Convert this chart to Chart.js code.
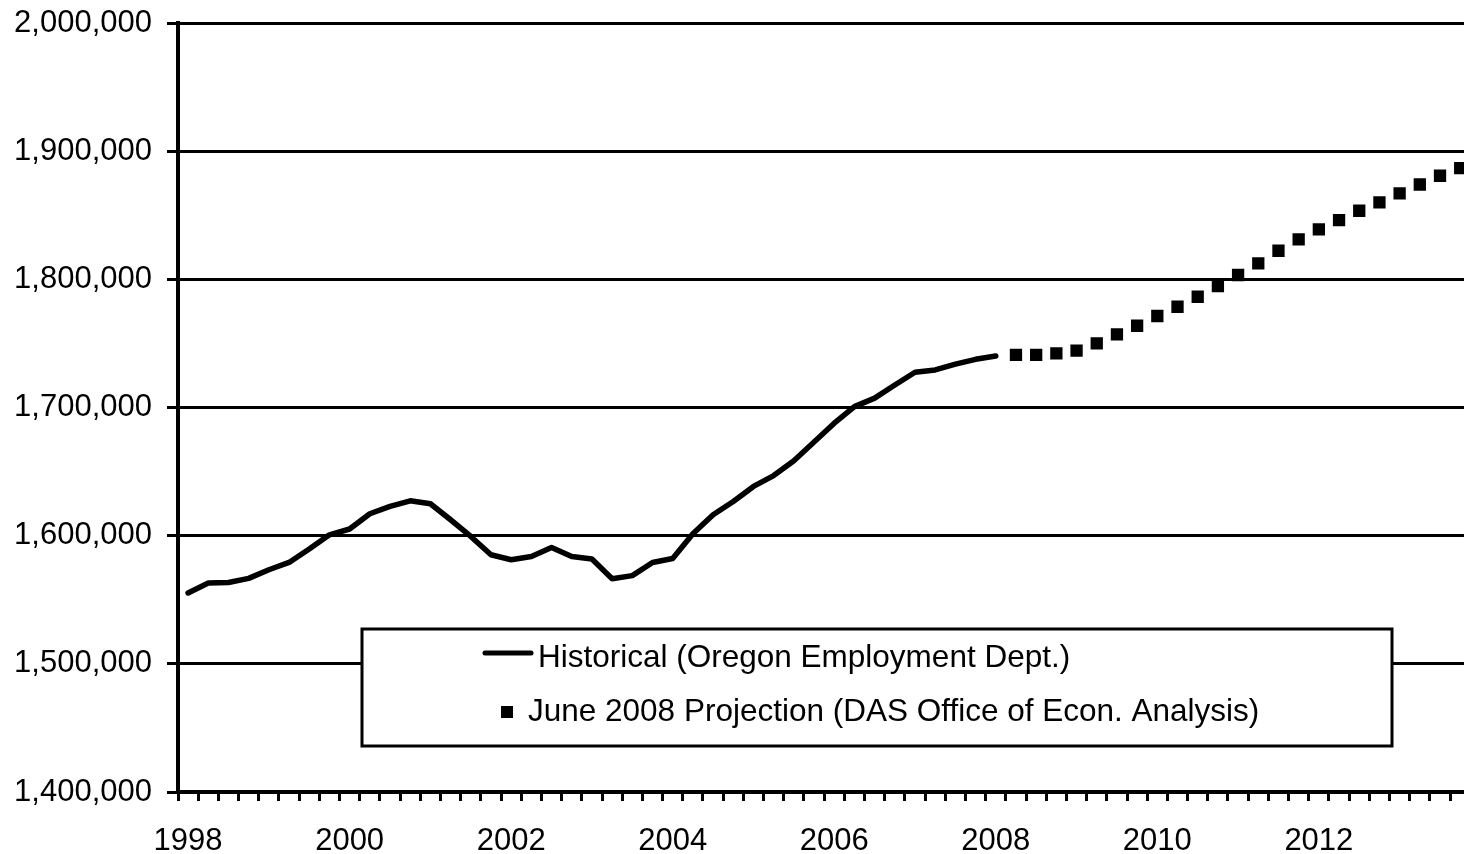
<!DOCTYPE html>
<html>
<head>
<meta charset="utf-8">
<title>Oregon nonfarm employment</title>
<script src="https://cdn.jsdelivr.net/npm/chart.js@4/dist/chart.umd.min.js"></script>
<style>
    html, body { margin: 0; padding: 0; background: #fff; overflow: hidden; }
    #wrap { position: relative; width: 1479px; height: 854px; }
</style>
</head>
<body>
<div id="wrap"><canvas id="employment" width="1479" height="854"></canvas></div>
<script>
// years on the axis, every quarter is one category
const years = [1998, 1999, 2000, 2001, 2002, 2003, 2004, 2005, 2006, 2007, 2008, 2009, 2010, 2011, 2012, 2013];
const quarterNames = ['Q1', 'Q2', 'Q3', 'Q4'];

// 1998 Q1 - 2008 Q1
const historical = [
    1555300, 1563000, 1563500, 1566700, 1573400, 1579100, 1589600, 1600700,
    1605200, 1617100, 1622800, 1627200, 1624900, 1612400, 1599400, 1585100,
    1581200, 1583800, 1590800, 1583800, 1581800, 1566400, 1568800, 1579100,
    1582200, 1601500, 1616300, 1626700, 1638400, 1646900, 1658400, 1673000,
    1687800, 1700700, 1707300, 1717600, 1727500, 1729300, 1733800, 1737600,
    1740200
];

// 2008 Q2 - 2013 Q4
const projection = [
    1741000, 1741000, 1742300, 1744400, 1750100, 1757100, 1763800, 1771400,
    1778600, 1786400, 1794800, 1803400, 1812500, 1822300, 1831200, 1839000,
    1846200, 1853500, 1860000, 1867000, 1874000, 1880800, 1886800
];

const yTicks = { min: 1400000, max: 2000000, step: 100000 };

const seriesNames = [
    'Historical (Oregon Employment Dept.)',
    'June 2008 Projection (DAS Office of Econ. Analysis)'
];

const quarters = [];
years.forEach((y) => quarterNames.forEach((q) => quarters.push(y + ' ' + q)));

const fontFamily = '"Liberation Sans", Arial, sans-serif';

// legend box sitting inside the plot, drawn like the excel one
const boxLegend = {
    id: 'boxLegend',
    afterDraw (chart) {
        const ctx = chart.ctx;
        const sets = chart.data.datasets;
        ctx.save();
        ctx.fillStyle = '#fff';
        ctx.fillRect(362, 629, 1030, 117);
        ctx.strokeStyle = '#000';
        ctx.lineWidth = 3;
        ctx.strokeRect(362, 629, 1030, 117);

        // line sample
        ctx.beginPath();
        ctx.lineCap = 'round';
        ctx.lineWidth = 5;
        ctx.strokeStyle = sets[0].borderColor;
        ctx.moveTo(485, 653);
        ctx.lineTo(531, 653);
        ctx.stroke();

        // marker sample
        ctx.fillStyle = sets[1].pointBackgroundColor;
        ctx.fillRect(501, 706, 12, 12);

        ctx.fillStyle = '#000';
        ctx.font = '31.5px ' + fontFamily;
        ctx.textBaseline = 'alphabetic';
        ctx.fillText(sets[0].label, 538, 667);
        ctx.fillText(sets[1].label, 528, 721);
        ctx.restore();
    }
};

const ctx = document.getElementById('employment').getContext('2d');
const chart = new Chart(ctx, {
    type: 'line',
    data: {
        labels: quarters,
        datasets: [{
            label: seriesNames[0],
            data: historical.concat(Array(quarters.length - historical.length).fill(null)),
            borderColor: '#000',
            borderWidth: 5.5,
            borderCapStyle: 'round',
            borderJoinStyle: 'round',
            pointRadius: 0,
            tension: 0
        }, {
            label: seriesNames[1],
            data: Array(quarters.length - projection.length).fill(null).concat(projection),
            showLine: false,
            pointStyle: 'rect',
            pointRadius: 8.7,
            pointBorderWidth: 0,
            pointBackgroundColor: '#000',
            borderColor: '#000'
        }]
    },
    options: {
        responsive: false,
        animation: false,
        layout: {
            padding: { top: 23, left: 0, right: 0, bottom: 0 }
        },
        plugins: {
            legend: { display: false },
            tooltip: { enabled: false }
        },
        scales: {
            x: {
                offset: true,
                afterFit (scale) {
                    scale.height = 62;
                    scale.paddingLeft = 0;
                    scale.paddingRight = 0;
                },
                grid: {
                    offset: true,
                    drawOnChartArea: false,
                    drawTicks: true,
                    tickLength: 9,
                    tickWidth: 3,
                    tickColor: '#000'
                },
                border: { display: true, color: '#000', width: 4 },
                ticks: {
                    autoSkip: false,
                    maxRotation: 0,
                    minRotation: 0,
                    padding: 22,
                    color: '#000',
                    font: { family: fontFamily, size: 31 },
                    callback: (val, i) => (i % 8 === 0 ? String(years[i / 4]) : '')
                }
            },
            y: {
                min: yTicks.min,
                max: yTicks.max,
                afterFit (scale) {
                    scale.width = 178;
                    scale.paddingTop = 0;
                    scale.paddingBottom = 0;
                },
                grid: {
                    color: '#000',
                    lineWidth: 3,
                    drawTicks: true,
                    tickLength: 11
                },
                border: { display: true, color: '#000', width: 4 },
                ticks: {
                    stepSize: yTicks.step,
                    padding: 15,
                    color: '#000',
                    font: { family: fontFamily, size: 31 },
                    callback: (v) => v.toLocaleString('en-US')
                }
            }
        }
    },
    plugins: [boxLegend]
});
</script>
</body>
</html>
